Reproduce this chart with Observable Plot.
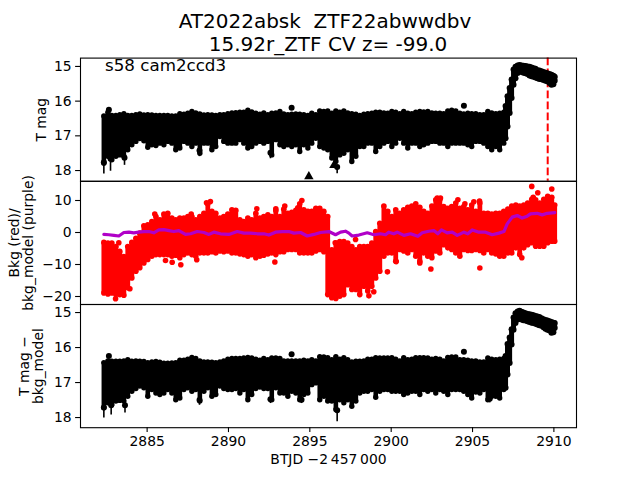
<!DOCTYPE html>
<html><head><meta charset="utf-8">
<script src="https://cdn.jsdelivr.net/npm/d3@7"></script>
<script src="https://cdn.jsdelivr.net/npm/@observablehq/plot@0.6"></script>
<style>
html,body{margin:0;padding:0;background:#fff;}
#c{position:relative;width:640px;height:480px;overflow:hidden;font-family:"DejaVu Sans",sans-serif;}
#c svg{position:absolute;left:0;top:0;background:transparent;}
.t{position:absolute;white-space:pre;color:#000;line-height:1;}
</style></head><body><div id="c"></div>
<script>
// Time grid of the sampled envelope (BTJD - 2457000)
const times = [2882.34,2882.59,2882.83,2883.08,2883.32,2883.57,2883.81,2884.06,2884.31,2884.55,2884.80,2885.04,2885.29,2885.54,2885.78,2886.03,2886.27,2886.52,2886.76,2887.01,2887.26,2887.50,2887.75,2887.99,2888.24,2888.49,2888.73,2888.98,2889.22,2889.47,2889.71,2889.96,2890.21,2890.45,2890.70,2890.94,2891.19,2891.43,2891.68,2891.93,2892.17,2892.42,2892.66,2892.91,2893.16,2893.40,2893.65,2893.89,2894.14,2894.38,2894.63,2894.88,2895.12,2895.37,2895.61,2895.86,2896.10,2896.35,2896.60,2896.84,2897.09,2897.33,2897.58,2897.83,2898.07,2898.32,2898.56,2898.81,2899.05,2899.30,2899.55,2899.79,2900.04,2900.28,2900.53,2900.77,2901.02,2901.27,2901.51,2901.76,2902.00,2902.25,2902.50,2902.74,2902.99,2903.23,2903.48,2903.72,2903.97,2904.22,2904.46,2904.71,2904.95,2905.20,2905.45,2905.69,2905.94,2906.18,2906.43,2906.67,2906.92,2907.17,2907.41,2907.66,2907.90,2908.15,2908.39,2908.64,2908.88,2909.13,2909.38,2909.62,2909.87,2910.05];

// Panel 1: T mag, upper and lower edge of the band
const magTop = [16.43,16.32,16.41,16.41,16.39,16.36,16.41,16.41,16.39,16.37,16.40,16.39,16.40,16.41,16.41,16.41,16.41,16.43,16.43,16.36,16.38,16.35,16.30,16.34,16.37,16.40,16.39,16.40,16.41,16.39,16.39,16.36,16.34,16.33,16.32,16.32,16.26,16.31,16.35,16.38,16.34,16.39,16.35,16.34,16.30,16.37,16.39,16.38,16.37,16.38,16.39,16.41,16.35,16.39,16.28,16.30,16.28,
16.35,16.28,16.32,16.28,16.34,16.36,16.38,16.41,16.38,16.36,16.35,16.32,16.32,16.34,16.35,16.30,16.32,16.36,16.30,16.35,16.36,16.32,16.30,16.31,16.30,16.34,16.35,16.35,16.36,16.28,16.26,16.28,16.35,16.37,16.35,16.36,16.36,16.39,16.39,16.30,16.34,16.36,16.35,16.32];
const magBot = [17.79,17.59,17.69,17.59,17.55,17.59,17.40,17.26,17.16,17.08,17.14,17.33,17.26,17.28,17.21,17.26,17.16,17.21,17.40,17.35,17.16,17.21,17.31,17.21,17.50,17.21,17.21,17.40,17.31,17.02,17.16,17.21,17.21,17.21,17.11,17.21,17.35,17.31,17.21,17.16,17.21,17.16,17.55,17.11,17.26,17.31,17.26,17.31,17.26,17.45,17.26,17.35,17.21,17.07,17.31,17.35,17.40,
17.64,17.74,17.55,17.50,17.40,17.74,17.59,17.31,17.31,17.21,17.21,17.45,17.31,17.21,17.16,17.31,17.21,17.07,17.21,17.35,17.21,17.21,17.31,17.26,17.21,17.16,17.16,17.21,17.21,17.31,17.21,17.21,17.21,17.21,17.26,17.31,17.16,17.16,17.21,17.31,17.40,17.31,17.40,17.21];

// Flare: finer sampling
const flareT = [2907.03,2907.15,2907.28,2907.40,2907.52,2907.64,2907.77,2907.89,2908.01,2908.13,2908.26,2908.38,2908.50,2908.63,2908.75,2908.87,2908.99,2909.11,2909.24,2909.36,2909.48,2909.60,2909.73,2909.85,2909.97,2910.05];
const flareTop = [16.14,15.86,15.62,15.38,15.09,15.01,14.97,14.96,14.97,14.98,14.99,15.00,15.01,15.03,15.05,15.07,15.11,15.12,15.14,15.16,15.18,15.20,15.22,15.24,15.27,15.30];
const flareBot = [17.07,16.73,16.34,15.91,15.53,15.34,15.19,15.14,15.16,15.18,15.20,15.22,15.26,15.28,15.30,15.32,15.34,15.36,15.37,15.39,15.41,15.43,15.48,15.53,15.51,15.41];

// Panel 1 isolated points
const outT = [2882.65,2893.88,2904.47,2882.34,2882.75,2883.61,2888.22,2892.58,2896.68];
const outM = [16.25,16.19,16.13,17.76,17.66,17.63,17.42,17.49,17.90];
const outE = [16.25,16.19,16.13,18.10,18.02,17.85,17.60,17.66,18.09];
const triT = [2894.94,2896.48];
const triM = [18.17,17.85];

// Panel 2: background flux, upper and lower edge of the red cloud
const bkgTop = [-3.1,-3.3,-3.3,-4.4,-5.9,-7.5,-4.4,-3.1,-1.8,-0.2,2.1,2.4,3.4,5,4,5.8,6,4.5,4,4.5,4.5,5,5,4,5,6,9,6.6,6,4.5,5,5.8,7.1,6.9,4,3.4,4.5,4,6,4.5,5,5.5,5,6.9,5,7.3,6,6.3,6.9,9,7.1,6.6,6.6,7.6,7.6,6.6,5,
-5.4,-3.3,-2.8,-2.8,-3.3,-4.4,-5.4,-4.4,-4.4,-4.4,-3.3,0.3,2.9,8.3,6.6,5,7.1,6,7.1,7.9,8.3,9,7.9,6.6,6,8.3,10.2,10.2,8.1,7.6,8.1,9.2,7.6,8.1,7.1,8.6,6.6,9.2,6,6,5.8,6,6,6.6,7.3,8.3,8.6,8.3,8.6,9.2,10.4,10.2,9.2,10.4,11.3,11,8.6];
const bkgBot = [-18.9,-19.2,-18.9,-19.4,-19.4,-19.6,-17.3,-14.2,-12.1,-11,-9.5,-8.4,-7.4,-6.9,-6.9,-6.9,-6.9,-7.4,-7.1,-7.9,-6.9,-6.4,-6.9,-7.4,-6.4,-6.4,-6.4,-6,-6.4,-5.8,-6,-5.8,-6.4,-6.4,-6.7,-6.9,-7.4,-6.9,-7.9,-7.4,-7.1,-6.7,-6.4,-6.9,-6,-6,-5.3,-5.3,-5.3,-6.4,-6.4,-6.4,-6.4,-5.8,-5.3,-6,-19.4,
-20.4,-20.6,-19.9,-19.4,-16.3,-17.8,-17.8,-19.4,-16.8,-18.3,-16.8,-14.2,-12.1,-7.4,-6.4,-6.4,-9,-5.3,-5.8,-6.4,-5.3,-7.4,-9,-6.4,-7.4,-7.9,-5.8,-6.4,-3.8,-4.8,-5.3,-6.4,-7.4,-5.3,-5.6,-5.6,-5.3,-5.6,-6.4,-5.3,-6.4,-6.7,-7.4,-7.4,-6.4,-6.4,-4.8,-6.9,-4.8,-3.8,-3.2,-4.3,-4.3,-4.3,-3.2,-2.7,-2.7];

// Panel 2 isolated points
const redT = [2883.26,2883.06,2883.94,2888.65,2888.89,2885.47,2887.71,2891.74,2892.91,2893.46,2894.51,2894.26,2887.07,2886.13,2886.54,2888.05,2892.85,2908.64,2909.01,2909.87,2908.73,2902.83,2903.03,2904.10,2904.53,2905.08,2905.43,2899.77,2902.44,2905.45,2908.03,2901.76,2900.31,2898.63,2898.93,2896.56,2897.81];
const redV = [-3.2,-20.7,-17.6,9.3,9.7,5.8,5.8,7.4,7.4,8.3,10,7.7,-10.1,-8.75,-9.3,-8.5,-9.2,14.4,12.4,13.6,11,10.8,10.8,10.2,9,9.6,9.8,-12.3,-11.4,-11.1,-7.9,-9.5,-9.1,-19.8,-18.5,-3.2,-2.2];

// Panel 2 background model
const modelT = [2882.34,2882.65,2882.96,2883.26,2883.57,2883.88,2884.18,2884.49,2884.80,2885.11,2885.41,2885.72,2886.03,2886.34,2886.64,2886.95,2887.36,2887.67,2888.08,2888.49,2888.80,2889.10,2889.51,2890.02,2890.54,2890.95,2891.36,2891.77,2892.18,2892.48,2892.89,2893.30,2893.71,2894.02,2894.43,2894.84,2895.25,2895.66,2896.17,2896.58,2896.89,2897.19,2897.40,2897.60,2898.01,2898.53,2898.94,2899.34,2899.65,2899.85,2900.16,2900.37,2900.78,2901.19,2901.64,2901.91,2902.31,2902.62,2902.87,2903.09,2903.44,2903.75,2904.06,2904.47,2904.71,2904.98,2905.39,2905.80,2906.21,2906.62,2906.93,2907.13,2907.44,2907.75,2908.05,2908.36,2908.56,2908.97,2909.28,2909.59,2910.05];
const modelV = [-0.6,-0.7,-0.9,-1.1,0,0.1,-0.1,0.1,0.3,0.3,-0.1,0.8,0.9,0.6,0.3,0.6,-0.6,-0.4,0.3,0,-0.6,0.1,-0.4,-0.6,0.3,-0.2,-0.2,-0.4,-0.4,-0.8,0.1,0.3,0.3,-0.2,0,-1.1,-0.6,0,0.3,-0.7,0.1,0.4,-0.2,-1.1,-0.8,-0.1,-0.7,-0.4,-0.7,0.1,-0.4,0.1,-0.9,-0.4,-1.2,-0.1,0.4,0.6,-0.4,0.8,-0.1,0.1,-0.9,0.1,-0.4,0.8,0.1,0.1,-0.7,-0.2,0.3,2.7,4.8,5.3,4.5,5.1,5.8,6.0,5.5,6.0,6.2];

// Panel 3: T mag minus background model
const subTop = [16.43,16.38,16.39,16.39,16.39,16.38,16.35,16.39,16.38,16.39,16.40,16.43,16.41,16.40,16.42,16.45,16.45,16.44,16.43,16.36,16.36,16.33,16.28,16.31,16.38,16.41,16.41,16.42,16.43,16.41,16.38,16.33,16.31,16.31,16.31,16.30,16.28,16.30,16.33,16.36,16.31,16.35,16.30,16.30,16.31,16.38,16.38,16.38,16.38,16.38,16.36,16.38,16.35,16.38,16.26,16.27,16.29,
16.35,16.26,16.33,16.29,16.35,16.41,16.39,16.39,16.38,16.33,16.33,16.29,16.30,16.30,16.30,16.29,16.33,16.38,16.29,16.35,16.33,16.29,16.29,16.29,16.30,16.33,16.31,16.33,16.38,16.28,16.27,16.27,16.35,16.35,16.36,16.38,16.38,16.41,16.41,16.30,16.33,16.35,16.33,16.31];
const subBot = [17.72,17.58,17.63,17.53,17.51,17.53,17.39,17.25,17.17,17.10,17.15,17.39,17.20,17.30,17.34,17.30,17.20,17.30,17.49,17.44,17.20,17.15,17.25,17.20,17.53,17.25,17.15,17.39,17.34,17.10,17.17,17.20,17.20,17.17,17.30,17.20,17.49,17.34,17.17,17.13,17.17,17.17,17.49,17.15,17.30,17.30,17.39,17.25,17.30,17.49,17.34,17.30,17.06,17.01,17.49,17.39,17.53,
17.53,17.77,17.49,17.58,17.49,17.68,17.53,17.30,17.25,17.25,17.20,17.42,17.25,17.20,17.20,17.25,17.25,17.25,17.34,17.30,17.25,17.25,17.34,17.20,17.25,17.20,17.30,17.20,17.25,17.34,17.20,17.20,17.20,17.25,17.34,17.44,17.27,17.30,17.20,17.49,17.39,17.39,17.44,17.20];
const subFlareTop = [16.24,15.90,15.71,15.48,15.14,15.02,14.97,14.95,14.98,15.00,15.02,15.04,15.05,15.06,15.08,15.10,15.11,15.13,15.16,15.19,15.21,15.23,15.25,15.27,15.29,15.30];
const subFlareBot = [17.15,16.77,16.44,15.91,15.49,15.30,15.20,15.17,15.20,15.22,15.23,15.25,15.27,15.29,15.30,15.32,15.34,15.36,15.38,15.42,15.46,15.49,15.51,15.58,15.56,15.44];
const subOutT = [2882.65,2893.88,2904.47,2882.34,2882.79,2883.64,2888.22,2892.58,2894.49,2896.68,2906.06];
const subOutM = [16.24,16.19,16.12,17.71,17.65,17.65,17.50,17.48,17.49,17.79,17.46];
const subOutE = [16.24,16.19,16.12,18.01,17.93,17.87,17.65,17.60,17.60,18.12,17.58];

const xTicks = [2885,2890,2895,2900,2905,2910];
const magTicks = [15,16,17,18];
const bkgTicks = [10,0,-10,-20];
const peakTime = [2909.62];

const rows = (t, a, b) => t.map((v, i) => ({t: v, top: a[i], bot: b[i]})).filter(d => d.top != null && d.bot != null);
const W = 640, H = 480, L = 80, R = 64, B = 52.8, T0 = 57.6, PH = 123.2;
const xDom = [2880.905, 2911.39];
const base = (k) => ({
  width: W, height: H, marginLeft: L, marginRight: R,
  marginTop: T0 + k * PH, marginBottom: B + (2 - k) * PH,
  style: {fontFamily: '"DejaVu Sans", sans-serif', fontSize: "13.9px", background: "transparent", color: "#000", overflow: "visible"}
});
const ax = (extra) => ({tickSize: 4.9, tickPadding: 4, strokeWidth: 1.1, labelArrow: "none", labelAnchor: "center", ...extra});

function band(main, flare, ot, om, oe) {
  const pts = ot.map((t, i) => ({t, m: om[i], e: oe[i]}));
  return [
    Plot.ruleX(main, {x: "t", y1: "top", y2: "bot", stroke: "#000", strokeWidth: 4.6}),
    Plot.dot(main, {x: "t", y: "top", r: 2.7, fill: "#000"}),
    Plot.dot(main, {x: "t", y: "bot", r: 2.7, fill: "#000"}),
    Plot.ruleX(flare, {x: "t", y1: "top", y2: "bot", stroke: "#000", strokeWidth: 5}),
    Plot.dot(flare, {x: "t", y: "top", r: 3, fill: "#000"}),
    Plot.dot(flare, {x: "t", y: "bot", r: 3, fill: "#000"}),
    Plot.ruleX(pts, {x: "t", y1: "m", y2: "e", stroke: "#000", strokeWidth: 1.6}),
    Plot.dot(pts, {x: "t", y: "m", r: 3, fill: "#000"})
  ];
}

const p1 = Plot.plot({...base(0),
  x: {domain: xDom, axis: null},
  y: {domain: [18.31, 14.76], axis: null},
  marks: [
    Plot.ruleX(peakTime, {stroke: "#ff0000", strokeWidth: 2, strokeDasharray: "7.7,3.3"}),
    ...band(rows(times, magTop, magBot), rows(flareT, flareTop, flareBot), outT, outM, outE),
    Plot.dot(triT.map((t, i) => ({t, m: triM[i]})), {x: "t", y: "m", symbol: "triangle", r: 3.5, fill: "#000"}),
    Plot.axisY(ax({ticks: magTicks, tickFormat: "d", label: "T mag", labelOffset: 44})),
    Plot.frame({stroke: "#000", strokeWidth: 1.1})
  ]});

const bkgRows = rows(times, bkgTop, bkgBot);
const p2 = Plot.plot({...base(1),
  x: {domain: xDom, axis: null},
  y: {domain: [-22.5, 16], axis: null},
  marks: [
    Plot.ruleX(bkgRows, {x: "t", y1: "top", y2: "bot", stroke: "#ff0000", strokeWidth: 4.8}),
    Plot.dot(bkgRows, {x: "t", y: "top", r: 2.8, fill: "#ff0000"}),
    Plot.dot(bkgRows, {x: "t", y: "bot", r: 2.8, fill: "#ff0000"}),
    Plot.dot(redT.map((t, i) => ({t, v: redV[i]})), {x: "t", y: "v", r: 2.8, fill: "#ff0000"}),
    Plot.line(modelT.map((t, i) => ({t, v: modelV[i]})), {x: "t", y: "v", stroke: "#b000c8", strokeWidth: 3.2}),
    Plot.axisY(ax({ticks: bkgTicks, tickFormat: "d", label: "Bkg (red)/\nbkg_model (purple)", labelOffset: 71})),
    Plot.frame({stroke: "#000", strokeWidth: 1.1})
  ]});

const p3 = Plot.plot({...base(2),
  x: {domain: xDom, axis: null},
  y: {domain: [18.29, 14.77], axis: null},
  marks: [
    ...band(rows(times, subTop, subBot), rows(flareT, subFlareTop, subFlareBot), subOutT, subOutM, subOutE),
    Plot.axisY(ax({ticks: magTicks, tickFormat: "d", label: "T mag \u2212\nbkg_model", labelOffset: 61})),
    Plot.axisX(ax({ticks: xTicks, tickFormat: "d", label: "BTJD \u22122\u2009457\u2009000", labelOffset: 36})),
    Plot.frame({stroke: "#000", strokeWidth: 1.1})
  ]});

const c = document.getElementById("c");
c.append(p1, p2, p3);
const addText = (s, css) => { const d = document.createElement("div"); d.className = "t"; d.textContent = s; d.style.cssText = css; c.append(d); };
addText("AT2022absk  ZTF22abwwdbv", "left:325px;top:11px;transform:translateX(-50%);font-size:20px;");
addText("15.92r_ZTF CV z= -99.0", "left:328px;top:33.5px;transform:translateX(-50%);font-size:20px;");
addText("s58 cam2ccd3", "left:105px;top:57px;font-size:16.7px;");
</script></body></html>
